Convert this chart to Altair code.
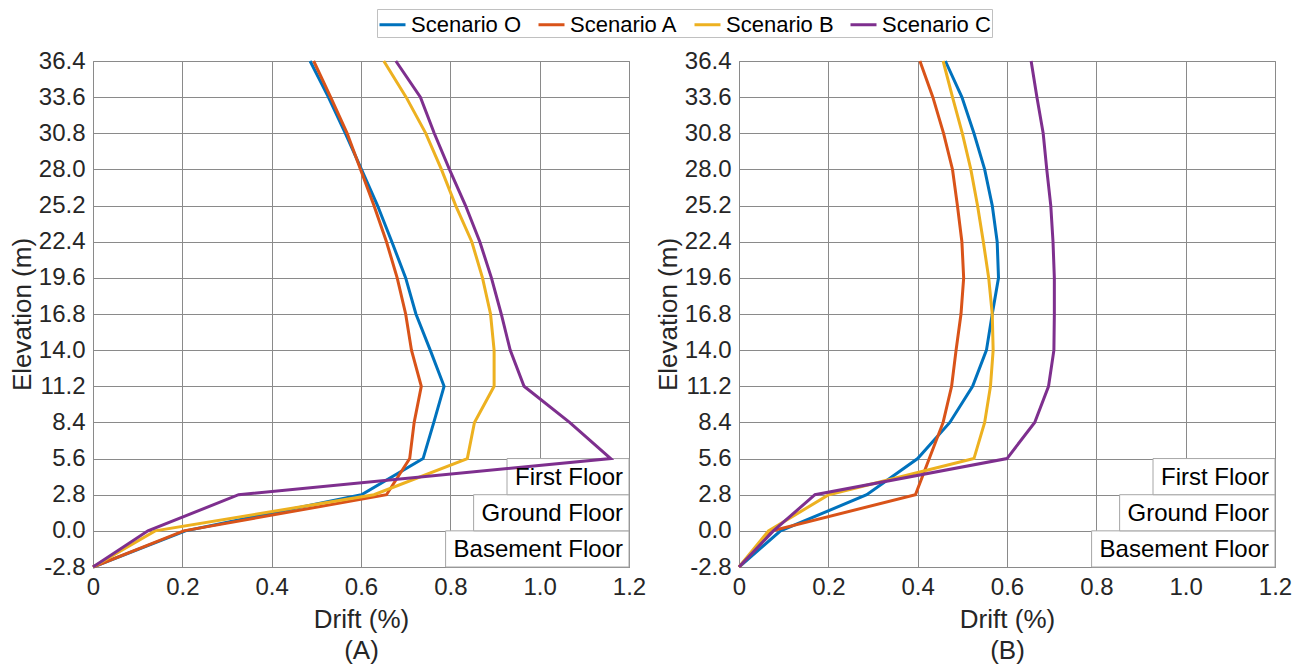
import altair as alt
import pandas as pd

# ---------------- data ----------------
elevations = [-2.8, 0.0, 2.8, 5.6, 8.4, 11.2, 14.0, 16.8, 19.6, 22.4, 25.2, 28.0, 30.8, 33.6, 36.4]
scenarios = ["Scenario O", "Scenario A", "Scenario B", "Scenario C"]
colors = ["#0072BD", "#D95319", "#EDB120", "#7E2F8E"]

# Panel (A) drift (%) from bottom (-2.8 m) to top (36.4 m)
a_O = [0, 0.207, 0.601, 0.739, 0.763, 0.786, 0.755, 0.723, 0.700, 0.669, 0.637, 0.601, 0.565, 0.527, 0.486]
a_A = [0, 0.203, 0.657, 0.709, 0.719, 0.735, 0.713, 0.700, 0.681, 0.657, 0.629, 0.599, 0.569, 0.532, 0.494]
a_B = [0, 0.139, 0.629, 0.838, 0.854, 0.898, 0.898, 0.890, 0.872, 0.848, 0.812, 0.780, 0.745, 0.701, 0.651]
a_C = [0, 0.123, 0.326, 1.159, 1.067, 0.965, 0.934, 0.914, 0.892, 0.866, 0.834, 0.798, 0.764, 0.733, 0.678]

# Panel (B)
b_O = [0, 0.093, 0.286, 0.400, 0.472, 0.523, 0.554, 0.567, 0.581, 0.578, 0.567, 0.550, 0.526, 0.499, 0.462]
b_A = [0, 0.074, 0.395, 0.426, 0.457, 0.476, 0.486, 0.497, 0.503, 0.499, 0.489, 0.478, 0.458, 0.434, 0.405]
b_B = [0, 0.066, 0.201, 0.526, 0.550, 0.563, 0.569, 0.567, 0.559, 0.547, 0.534, 0.519, 0.500, 0.478, 0.457]
b_C = [0, 0.077, 0.170, 0.600, 0.662, 0.693, 0.705, 0.706, 0.706, 0.703, 0.698, 0.689, 0.681, 0.667, 0.654]

x_ticks = [0, 0.2, 0.4, 0.6, 0.8, 1.0, 1.2]

floor_names = ["Basement Floor", "Ground Floor", "First Floor"]
floor_bottom = [-2.8, 0.0, 2.8]
floor_top = [0.0, 2.8, 5.6]

# ---------------- layout / style ----------------
W, H = 536, 506
FONT = "Liberation Sans"
TICK_FS = 24
TITLE_FS = 26
FLOOR_FS = 24
GRID = "#8a8a8a"
TXT = "#262626"

# Arial/Liberation Sans advance widths (per 1000 em) for the floor label box sizes
_AW = {"B": 667, "a": 556, "s": 500, "e": 556, "m": 833, "n": 556, "t": 278, " ": 278,
       "F": 611, "l": 222, "o": 556, "r": 333, "G": 778, "u": 556, "d": 556, "i": 222}


def text_width(s, fs):
    return sum(_AW.get(c, 556) for c in s) / 1000.0 * fs


def long_df(series):
    rows = []
    for name, vals in zip(scenarios, series):
        for e, v in zip(elevations, vals):
            rows.append({"scenario": name, "elev": e, "drift": v})
    return pd.DataFrame(rows)


floor_df = pd.DataFrame({
    "name": floor_names,
    "bottom": floor_bottom,
    "top": floor_top,
})
floor_df["mid"] = (floor_df["bottom"] + floor_df["top"]) / 2
floor_df["left_px"] = [W - (text_width(n, FLOOR_FS) + 14) for n in floor_names]

y_label_expr = "datum.value < 0 ? '-' + format(-datum.value, '.1f') : format(datum.value, '.1f')"
x_label_expr = "datum.value == 0 ? '0' : format(datum.value, '.1f')"


def panel(series, tag, show_legend):
    df = long_df(series)
    xscale = alt.Scale(domain=[0, 1.2], nice=False, zero=False)
    yscale = alt.Scale(domain=[-2.8, 36.4], nice=False, zero=False)
    xaxis = alt.Axis(values=x_ticks, labelExpr=x_label_expr, title=["Drift (%)", tag],
                     tickCount=len(x_ticks),
                     grid=True, gridColor=GRID, gridOpacity=1, domain=False, ticks=False,
                     labelPadding=8, labelFontSize=TICK_FS, labelColor=TXT, labelFlush=False,
                     labelOverlap=False, titleFontSize=TITLE_FS, titleFontWeight="normal",
                     titleColor=TXT, titlePadding=7, titleLineHeight=31)
    yaxis = alt.Axis(values=elevations, labelExpr=y_label_expr, title="Elevation (m)",
                     tickCount=len(elevations) + 5,
                     grid=True, gridColor=GRID, gridOpacity=1, domain=False, ticks=False,
                     labelPadding=8, labelFontSize=TICK_FS, labelColor=TXT, labelFlush=False,
                     labelOverlap=False, titleFontSize=TITLE_FS, titleFontWeight="normal",
                     titleColor=TXT, titlePadding=3)
    if show_legend:
        legend = alt.Legend(title=None, orient="none", legendX=284, legendY=-52,
                            direction="horizontal", columns=4, symbolType="stroke",
                            symbolStrokeWidth=3, symbolSize=676, labelFontSize=22,
                            labelColor="#000000", labelOffset=4, columnPadding=10,
                            padding=1, strokeColor="#c0c0c0", fillColor="white",
                            labelFont=FONT)
    else:
        legend = None

    boxes = alt.Chart(floor_df).mark_rect(fill="white", stroke="#a6a6a6", strokeWidth=1).encode(
        x=alt.X("left_px:Q", scale=None),
        x2=alt.value(W),
        y=alt.Y("top:Q", scale=yscale, axis=yaxis),
        y2="bottom:Q",
    )

    lines = alt.Chart(df).mark_line(strokeWidth=3, clip=False).encode(
        x=alt.X("drift:Q", scale=xscale, axis=xaxis),
        y=alt.Y("elev:Q", scale=yscale, axis=yaxis),
        color=alt.Color("scenario:N", scale=alt.Scale(domain=scenarios, range=colors),
                        legend=legend, sort=scenarios),
        order=alt.Order("elev:Q"),
    )

    labels = alt.Chart(floor_df).mark_text(align="right", baseline="middle", fontSize=FLOOR_FS,
                                           font=FONT, color="#000000", dy=1).encode(
        x=alt.value(W - 6),
        y=alt.Y("mid:Q", scale=yscale, axis=yaxis),
        text="name:N",
    )
    return alt.layer(boxes, lines, labels).properties(width=W, height=H)


left = panel([a_O, a_A, a_B, a_C], "(A)", True)
right = panel([b_O, b_A, b_B, b_C], "(B)", False)

chart = alt.hconcat(left, right, spacing=110, bounds="flush").resolve_scale(
    color="independent"
).properties(padding=0).configure(font=FONT).configure_view(
    stroke=GRID, strokeWidth=1
)

chart.save("out.html", embed_options={"renderer": "svg", "actions": False})
